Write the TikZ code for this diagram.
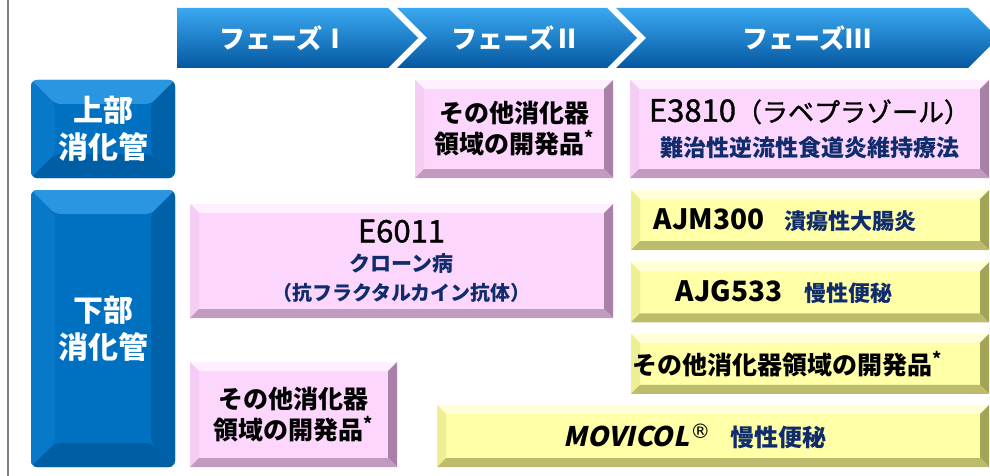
\documentclass[tikz,border=0pt]{standalone}
\usepackage{fontspec}
\setmainfont{Noto Sans CJK JP}
\newfontfamily\medfont{Noto Sans CJK JP}[FakeBold=1.2]
\newfontfamily\movfont{Noto Sans CJK JP}[FakeSlant=0.22, BoldFeatures={FakeSlant=0.22}]
\newfontfamily\symfont{DejaVu Sans}
\usepackage{tikz}
\usetikzlibrary{positioning}

\definecolor{bluface}{HTML}{0070C0}
\definecolor{blutop}{HTML}{2A96E2}
\definecolor{bluleft}{HTML}{0878C8}
\definecolor{bluright}{HTML}{0060A8}
\definecolor{blubot}{HTML}{005EA4}
\definecolor{pinkface}{HTML}{FCD6FC}
\definecolor{pinktop}{HTML}{FFF0FF}
\definecolor{pinkleft}{HTML}{F4CCF4}
\definecolor{pinkright}{HTML}{A880A8}
\definecolor{pinkbot}{HTML}{C09AC0}
\definecolor{yelface}{HTML}{FFFFA8}
\definecolor{yeltop}{HTML}{FFFFD8}
\definecolor{yelleft}{HTML}{EEEE94}
\definecolor{yelright}{HTML}{A4A458}
\definecolor{yelbot}{HTML}{BCBC6C}
\definecolor{phtop}{HTML}{3AA8F0}
\definecolor{phmid}{HTML}{0F7DCC}
\definecolor{phbot}{HTML}{0558A0}
\definecolor{navy}{HTML}{102C6C}
\definecolor{edge}{HTML}{7F7F7F}

% bevelled face inside a node: width, top, left, right, bottom
\newcommand{\bevelpic}[5]{%
  \fill[#2] (path picture bounding box.north west) -- (path picture bounding box.north east)
    -- ([shift={(-#1,-#1)}]path picture bounding box.north east) -- ([shift={(#1,-#1)}]path picture bounding box.north west) -- cycle;
  \fill[#3] (path picture bounding box.north west) -- ([shift={(#1,-#1)}]path picture bounding box.north west)
    -- ([shift={(#1,#1)}]path picture bounding box.south west) -- (path picture bounding box.south west) -- cycle;
  \fill[#4] (path picture bounding box.north east) -- ([shift={(-#1,-#1)}]path picture bounding box.north east)
    -- ([shift={(-#1,#1)}]path picture bounding box.south east) -- (path picture bounding box.south east) -- cycle;
  \fill[#5] (path picture bounding box.south west) -- ([shift={(#1,#1)}]path picture bounding box.south west)
    -- ([shift={(-#1,#1)}]path picture bounding box.south east) -- (path picture bounding box.south east) -- cycle;}
\newcommand{\codename}[1]{{\medfont\fontsize{31}{31}\selectfont #1}}
\newcommand{\latcode}[1]{{\bfseries\fontsize{28}{28}\selectfont #1}}
\newcommand{\indic}[2]{{\bfseries\color{navy}\fontsize{#1}{#1}\selectfont #2}}

\begin{document}
\begin{tikzpicture}[x=1pt, y=-1pt, node distance = 12pt and 12pt,
blubox/.style ={rounded corners=6pt, fill=bluface, text=white, align=center, inner sep=0pt,
  font=\bfseries\fontsize{30}{37}\selectfont, path picture={\bevelpic{24pt}{blutop}{bluleft}{bluright}{blubot}}},
pinkbox/.style ={fill=pinkface, align=center, inner sep=0pt,
  path picture={\bevelpic{9pt}{pinktop}{pinkleft}{pinkright}{pinkbot}}},
yelbox/.style ={fill=yelface, align=center, inner sep=0pt, minimum width=358pt, minimum height=60pt,
  path picture={\bevelpic{9pt}{yeltop}{yelleft}{yelright}{yelbot}}},
phase/.style ={top color=phtop, middle color=phmid, bottom color=phbot},
phasetxt/.style ={text=white, font=\bfseries\fontsize{26}{26}\selectfont},
other/.style ={font=\bfseries\fontsize{25}{31}\selectfont}]
\useasboundingbox (0,0) rectangle (990,476);
\draw[edge, line width=1.5pt] (8,0) -- (8,476);

% phase arrows
\shade[phase] (177,8) -- (388,8) -- (418,38) -- (388,68) -- (177,68) -- cycle;
\shade[phase] (397,8) -- (607,8) -- (637,38) -- (607,68) -- (397,68) -- (427,38) -- cycle;
\shade[phase] (616,8) -- (968,8) -- (998,38) -- (968,68) -- (616,68) -- (646,38) -- cycle;
\node[phasetxt] (ph1) at (284,38) {フェーズⅠ};
\node[phasetxt] (ph2) at (516,38) {フェーズⅡ};
\node[phasetxt] (ph3) at (807,38) {フェーズⅢ};

% rows
\node[blubox, minimum width=144pt, minimum height=98pt] (upper) at (103,129) {上部\\消化管};
\node[blubox, minimum width=144pt, minimum height=277pt] (lower) at (103,328.5) {下部\\消化管};

% upper tract
\node[pinkbox, other, minimum width=198pt, minimum height=98pt] (otherU) at (514,129) {その他消化器\\領域の開発品\textsuperscript{*}};
\node[pinkbox, minimum width=359pt, minimum height=98pt, font=\fontsize{24}{35}\selectfont] (e3810) at (809.5,129)
  {\codename{E3810{\fontsize{26}{26}\selectfont（ラベプラゾール）}}\\\indic{23}{難治性逆流性食道炎維持療法}};

% lower tract
\node[pinkbox, minimum width=423pt, minimum height=114pt, font=\fontsize{20}{29}\selectfont] (e6011) at (401.5,261)
  {\codename{E6011}\\\indic{21}{クローン病}\\\indic{20}{（抗フラクタルカイン抗体）}};
\node[pinkbox, other, minimum width=207pt, minimum height=105pt] (otherL) at (293.5,414.5) {その他消化器\\領域の開発品\textsuperscript{*}};
\node[yelbox] (ajm) at (810,220) {\latcode{AJM300}\hspace{20pt}\indic{22}{潰瘍性大腸炎}\hspace*{50pt}};
\node[yelbox] (ajg) [below = of ajm] {\latcode{AJG533}\hspace{22pt}\indic{22}{慢性便秘}\hspace*{52pt}};
\node[yelbox, other] (otherY) [below = 11pt of ajg] {その他消化器領域の開発品\textsuperscript{*}\hspace*{46pt}};
\node[yelbox, minimum width=552pt, minimum height=62pt] (movicol) at (713,436)
  {{\movfont\bfseries\fontsize{27}{27}\selectfont MOVICOL}\hspace{1pt}\raisebox{8pt}{\symfont\fontsize{20}{20}\selectfont ®}\hspace{20pt}\indic{24}{慢性便秘}\hspace*{36pt}};
\end{tikzpicture}
\end{document}
